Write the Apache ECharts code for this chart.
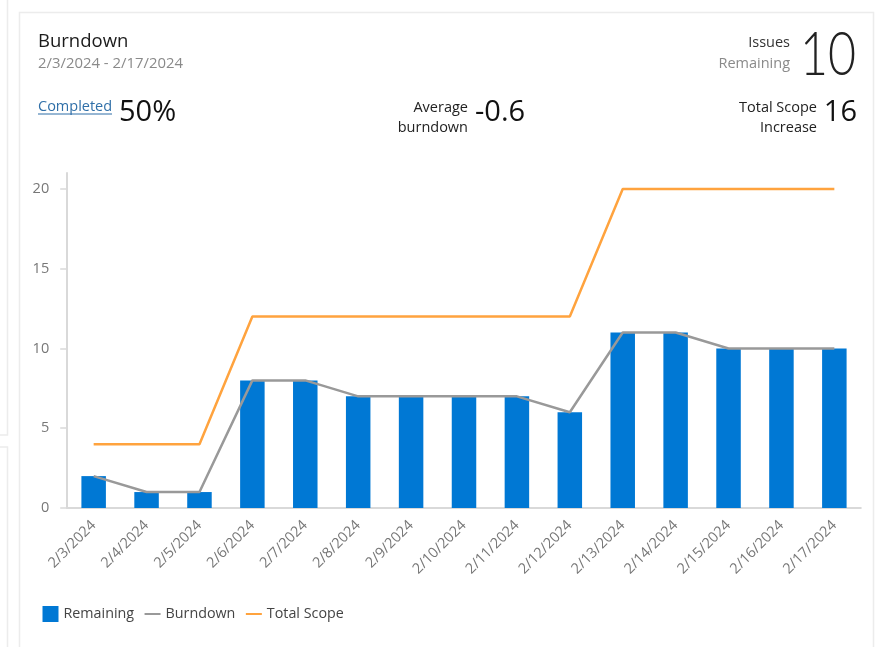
<!DOCTYPE html>
<html><head><meta charset="utf-8">
<style>html,body{margin:0;padding:0;background:#fff}#c{width:878px;height:647px}</style>
<script src="https://cdn.jsdelivr.net/npm/echarts@6/dist/echarts.min.js"></script>
</head><body><div id="c"></div>
<script>
const categories=['2/3/2024','2/4/2024','2/5/2024','2/6/2024','2/7/2024','2/8/2024','2/9/2024','2/10/2024','2/11/2024','2/12/2024','2/13/2024','2/14/2024','2/15/2024','2/16/2024','2/17/2024'];
const remaining=[2,1,1,8,8,7,7,7,7,6,11,11,10,10,10];
const burndown=[2,1,1,8,8,7,7,7,7,6,11,11,10,10,10];
const totalScope=[4,4,4,12,12,12,12,12,12,12,20,20,20,20,20];
const yTicks=[0,5,10,15,20];
const FONT='"Open Sans","Noto Sans",sans-serif';
const txt=(x,y,text,size,fill,align,extra)=>({type:'text',x,y,silent:true,style:Object.assign({text,fontSize:size,fill,align:align||'left',verticalAlign:'middle',fontFamily:FONT},extra||{})});
const box=(x,y,w,h)=>({type:'rect',shape:{x,y,width:w,height:h},silent:true,style:{fill:'#fff',stroke:'#ececec',lineWidth:1.5}});
const hiddenDot={color:'rgba(0,0,0,0)',borderWidth:0};
const chart=echarts.init(document.getElementById('c'));
chart.setOption({
 animation:false,backgroundColor:'#fff',textStyle:{fontFamily:FONT},
 graphic:{elements:[
  box(-10,-10,17.5,445),box(-10,447,17.5,220),box(19.5,12.5,854,660),
  txt(38,42,'Burndown',18.5,'#1b1b1b'),
  txt(38,64,'2/3/2024 - 2/17/2024',14.9,'#8a8a8a'),
  txt(38,107,'Completed',14.5,'#2f6fa8'),
  {type:'rect',shape:{x:38,y:113.5,width:74,height:1},silent:true,style:{fill:'#2f6fa8'}},
  txt(119,113,'50%',29,'#111'),
  txt(468,108,'Average',14.5,'#222','right'),
  txt(468,128,'burndown',14.5,'#222','right'),
  txt(475,113,'-0.6',29,'#111'),
  txt(790,43,'Issues',14.5,'#333','right'),
  txt(790,64,'Remaining',14.5,'#8a8a8a','right'),
  Object.assign(txt(0,0,'10',62,'#222','right',{fontWeight:300,fontFamily:'Lato,Roboto,sans-serif'}),{x:856,y:55,scaleX:0.78,scaleY:1}),
  txt(817,108,'Total Scope',14.5,'#222','right'),
  txt(817,128,'Increase',14.5,'#222','right'),
  txt(857,113,'16',29,'#111','right')
 ]},
 grid:{left:67.2,top:173,width:793.6,height:335,containLabel:false},
 legend:{left:42.5,top:606,padding:0,itemWidth:16,itemHeight:16,itemGap:9.5,textStyle:{fontSize:14.3,color:'#444',fontFamily:FONT,padding:[4,0,0,0]},
  data:[{name:'Remaining',icon:'rect'},{name:'Burndown',itemStyle:hiddenDot},{name:'Total Scope',itemStyle:hiddenDot}]},
 xAxis:{type:'category',data:categories,axisTick:{show:false},
  axisLine:{lineStyle:{color:'#d9d9d9',width:2}},
  axisLabel:{rotate:45,interval:0,fontSize:14.5,color:'#777',margin:15,fontFamily:FONT}},
 yAxis:{type:'value',min:0,max:21,splitLine:{show:false},
  axisLine:{show:true,lineStyle:{color:'#d9d9d9',width:2}},
  axisTick:{show:true,length:7,lineStyle:{color:'#d9d9d9',width:1.5},customValues:yTicks},
  axisLabel:{fontSize:14.5,color:'#777',margin:18,fontFamily:FONT,customValues:yTicks}},
 series:[
  {name:'Remaining',type:'bar',data:remaining,barWidth:24.5,itemStyle:{color:'#0078d4'},z:2},
  {name:'Burndown',type:'line',data:burndown,symbol:'none',lineStyle:{color:'#999',width:2.5},itemStyle:{color:'#999'},z:3},
  {name:'Total Scope',type:'line',data:totalScope,symbol:'none',lineStyle:{color:'#ffa33e',width:2.5},itemStyle:{color:'#ffa33e'},z:3}
 ]
});
</script></body></html>
